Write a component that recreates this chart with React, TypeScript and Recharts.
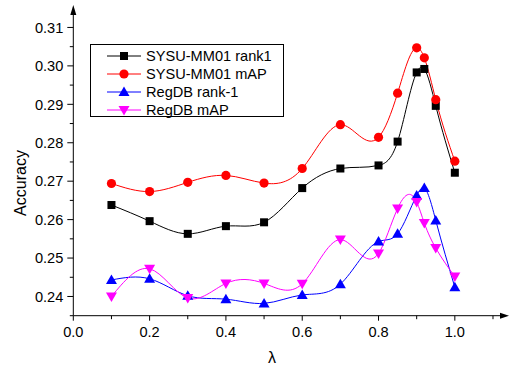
import { LineChart, Line, XAxis, YAxis, Legend, ReferenceDot } from 'recharts'

const lambdas = [0.1, 0.2, 0.3, 0.4, 0.5, 0.6, 0.7, 0.8, 0.85, 0.9, 0.92, 0.95, 1.0]
const sysuRank1 = [0.2638, 0.2596, 0.2563, 0.2583, 0.2593, 0.2682, 0.2733, 0.2741, 0.2803, 0.2983, 0.2992, 0.2896, 0.2722]
const sysuMap = [0.2694, 0.2673, 0.2697, 0.2715, 0.2695, 0.2733, 0.2847, 0.2814, 0.2929, 0.3047, 0.3021, 0.2912, 0.2752]
const regdbRank1 = [0.2443, 0.2446, 0.2402, 0.2393, 0.2382, 0.2404, 0.2432, 0.2543, 0.2563, 0.2663, 0.2682, 0.2598, 0.2424]
const regdbMap = [0.2400, 0.2472, 0.2396, 0.2434, 0.2434, 0.2433, 0.2548, 0.2512, 0.2629, 0.2646, 0.2591, 0.2526, 0.2452]

const xMajorTicks = [0.0, 0.2, 0.4, 0.6, 0.8, 1.0]
const xMinorTicks = [0.1, 0.3, 0.5, 0.7, 0.9, 1.1]
const yMajorTicks = [0.24, 0.25, 0.26, 0.27, 0.28, 0.29, 0.3, 0.31]
const yMinorTicks = [0.235, 0.245, 0.255, 0.265, 0.275, 0.285, 0.295, 0.305]

const X_MAX = 1.121
const Y_MIN = 0.235
const Y_MAX = 0.3135

const series = [
  { key: 'sysuRank1', name: 'SYSU-MM01 rank1', color: '#000000', shape: 'square' },
  { key: 'sysuMap', name: 'SYSU-MM01 mAP', color: '#ff0000', shape: 'circle' },
  { key: 'regdbRank1', name: 'RegDB rank-1', color: '#0000ff', shape: 'up' },
  { key: 'regdbMap', name: 'RegDB mAP', color: '#ff00ff', shape: 'down' },
]

const data = lambdas.map((l, i) => ({
  lambda: l,
  sysuRank1: sysuRank1[i],
  sysuMap: sysuMap[i],
  regdbRank1: regdbRank1[i],
  regdbMap: regdbMap[i],
}))

const allXTicks = [...xMajorTicks, ...xMinorTicks].sort((a, b) => a - b)
const allYTicks = [...yMajorTicks, ...yMinorTicks].sort((a, b) => a - b)
const isMajor = (list: number[], v: number) => list.some((t) => Math.abs(t - v) < 1e-6)

const FONT = 'Liberation Sans, Arial, sans-serif'

// cubic spline in x, like Origin's spline connector
function splineX(context: any) {
  let xs: number[] = []
  let ys: number[] = []
  return {
    areaStart() {},
    areaEnd() {},
    lineStart() {
      xs = []
      ys = []
    },
    point(x: number, y: number) {
      xs.push(+x)
      ys.push(+y)
    },
    lineEnd() {
      const n = xs.length
      if (n === 0) return
      context.moveTo(xs[0], ys[0])
      if (n < 3) {
        for (let i = 1; i < n; i++) context.lineTo(xs[i], ys[i])
        return
      }
      const h: number[] = []
      for (let i = 0; i < n - 1; i++) h[i] = xs[i + 1] - xs[i]
      const M = new Array(n).fill(0)
      const a: number[] = [], b: number[] = [], c: number[] = [], d: number[] = []
      for (let i = 1; i < n - 1; i++) {
        a[i] = h[i - 1]
        b[i] = 2 * (h[i - 1] + h[i])
        c[i] = h[i]
        d[i] = 6 * ((ys[i + 1] - ys[i]) / h[i] - (ys[i] - ys[i - 1]) / h[i - 1])
      }
      for (let i = 2; i < n - 1; i++) {
        const w = a[i] / b[i - 1]
        b[i] -= w * c[i - 1]
        d[i] -= w * d[i - 1]
      }
      M[n - 2] = d[n - 2] / b[n - 2]
      for (let i = n - 3; i >= 1; i--) M[i] = (d[i] - c[i] * M[i + 1]) / b[i]
      for (let i = 0; i < n - 1; i++) {
        const hi = h[i]
        const s = (ys[i + 1] - ys[i]) / hi
        const d0 = s - (hi * (2 * M[i] + M[i + 1])) / 6
        const d1 = s + (hi * (M[i] + 2 * M[i + 1])) / 6
        context.bezierCurveTo(
          xs[i] + hi / 3, ys[i] + (d0 * hi) / 3,
          xs[i + 1] - hi / 3, ys[i + 1] - (d1 * hi) / 3,
          xs[i + 1], ys[i + 1]
        )
      }
    },
  }
}

function Marker({ cx, cy, shape, color }: { cx: number; cy: number; shape: string; color: string }) {
  if (shape === 'square') return <rect x={cx - 4} y={cy - 4} width={8} height={8} fill={color} />
  if (shape === 'circle') return <circle cx={cx} cy={cy} r={4.6} fill={color} />
  if (shape === 'up')
    return <polygon points={`${cx},${cy - 5.5} ${cx + 5.5},${cy + 4} ${cx - 5.5},${cy + 4}`} fill={color} />
  return <polygon points={`${cx},${cy + 5.5} ${cx + 5.5},${cy - 4} ${cx - 5.5},${cy - 4}`} fill={color} />
}

function XTick({ x, y, payload }: any) {
  const major = isMajor(xMajorTicks, payload.value)
  return (
    <g>
      <line x1={x} y1={y} x2={x} y2={y + (major ? 5 : 3.5)} stroke="#000" />
      {major && (
        <text x={x} y={y + 11} dy="0.71em" textAnchor="middle" fontSize={14.6} fontFamily={FONT} fill="#000">
          {payload.value.toFixed(1)}
        </text>
      )}
    </g>
  )
}

function YTick({ x, y, payload }: any) {
  const major = isMajor(yMajorTicks, payload.value)
  return (
    <g>
      <line x1={x} y1={y} x2={x - (major ? 6 : 3.5)} y2={y} stroke="#000" />
      {major && (
        <text x={x - 10} y={y} dy="0.355em" textAnchor="end" fontSize={14.6} fontFamily={FONT} fill="#000">
          {payload.value.toFixed(2)}
        </text>
      )}
    </g>
  )
}

function LegendBox() {
  return (
    <div
      style={{
        border: '1px solid #000',
        background: '#fff',
        width: 194,
        height: 73,
        padding: '2px 0 0 0',
        boxSizing: 'border-box',
        fontFamily: FONT,
        fontSize: 14.6,
      }}
    >
      {series.map((s) => (
        <div key={s.key} style={{ display: 'flex', alignItems: 'center', height: 18 }}>
          <svg width={55} height={18} style={{ flex: 'none' }}>
            <line x1={16} y1={9} x2={50} y2={9} stroke={s.color} strokeWidth={1} />
            <Marker cx={33} cy={9} shape={s.shape} color={s.color} />
          </svg>
          <span style={{ color: '#000', whiteSpace: 'nowrap' }}>{s.name}</span>
        </div>
      ))}
    </div>
  )
}

export default function App() {
  return (
    <div style={{ position: 'absolute', left: 0, top: 0, background: '#fff' }}>
      <LineChart
        width={510}
        height={367}
        data={data}
        margin={{ top: 14, right: 9, bottom: 50.3, left: 72.3 }}
      >
        <XAxis
          dataKey="lambda"
          type="number"
          domain={[0, X_MAX]}
          ticks={allXTicks}
          interval={0}
          height={1}
          tickSize={0}
          tickMargin={0}
          tickLine={false}
          stroke="#000"
          tick={<XTick />}
          allowDataOverflow
        />
        <YAxis
          type="number"
          domain={[Y_MIN, Y_MAX]}
          ticks={allYTicks}
          interval={0}
          width={1}
          tickSize={0}
          tickMargin={0}
          tickLine={false}
          stroke="#000"
          tick={<YTick />}
          allowDataOverflow
        />
        <Legend
          layout="vertical"
          align="center"
          verticalAlign="middle"
          content={() => <LegendBox />}
          wrapperStyle={{ left: 90, top: 44, width: 194, height: 73 }}
        />
        {series.map((s) => (
          <Line
            key={s.key}
            dataKey={s.key}
            name={s.name}
            type={splineX as any}
            stroke={s.color}
            strokeWidth={1}
            isAnimationActive={false}
            dot={(p: any) => <Marker key={`${s.key}-${p.index}`} cx={p.cx} cy={p.cy} shape={s.shape} color={s.color} />}
            activeDot={false}
          />
        ))}
        <ReferenceDot
          x={X_MAX}
          y={Y_MIN}
          ifOverflow="visible"
          shape={(p: any) => (
            <polygon points={`${p.cx + 8},${p.cy} ${p.cx - 1},${p.cy - 3} ${p.cx - 1},${p.cy + 3}`} fill="#000" />
          )}
        />
        <ReferenceDot
          x={0}
          y={Y_MAX}
          ifOverflow="visible"
          shape={(p: any) => (
            <polygon points={`${p.cx},${p.cy - 9} ${p.cx - 3},${p.cy + 1} ${p.cx + 3},${p.cy + 1}`} fill="#000" />
          )}
        />
      </LineChart>
      <svg width={510} height={367} style={{ position: 'absolute', left: 0, top: 0, pointerEvents: 'none' }}>
        <text x={20} y={183} transform="rotate(-90 20 183)" textAnchor="middle" dominantBaseline="central" fontSize={16} fontFamily={FONT} fill="#000">
          Accuracy
        </text>
        <text x={272} y={357} textAnchor="middle" dominantBaseline="central" fontSize={16} fontFamily={FONT} fill="#000">
          λ
        </text>
      </svg>
    </div>
  )
}
